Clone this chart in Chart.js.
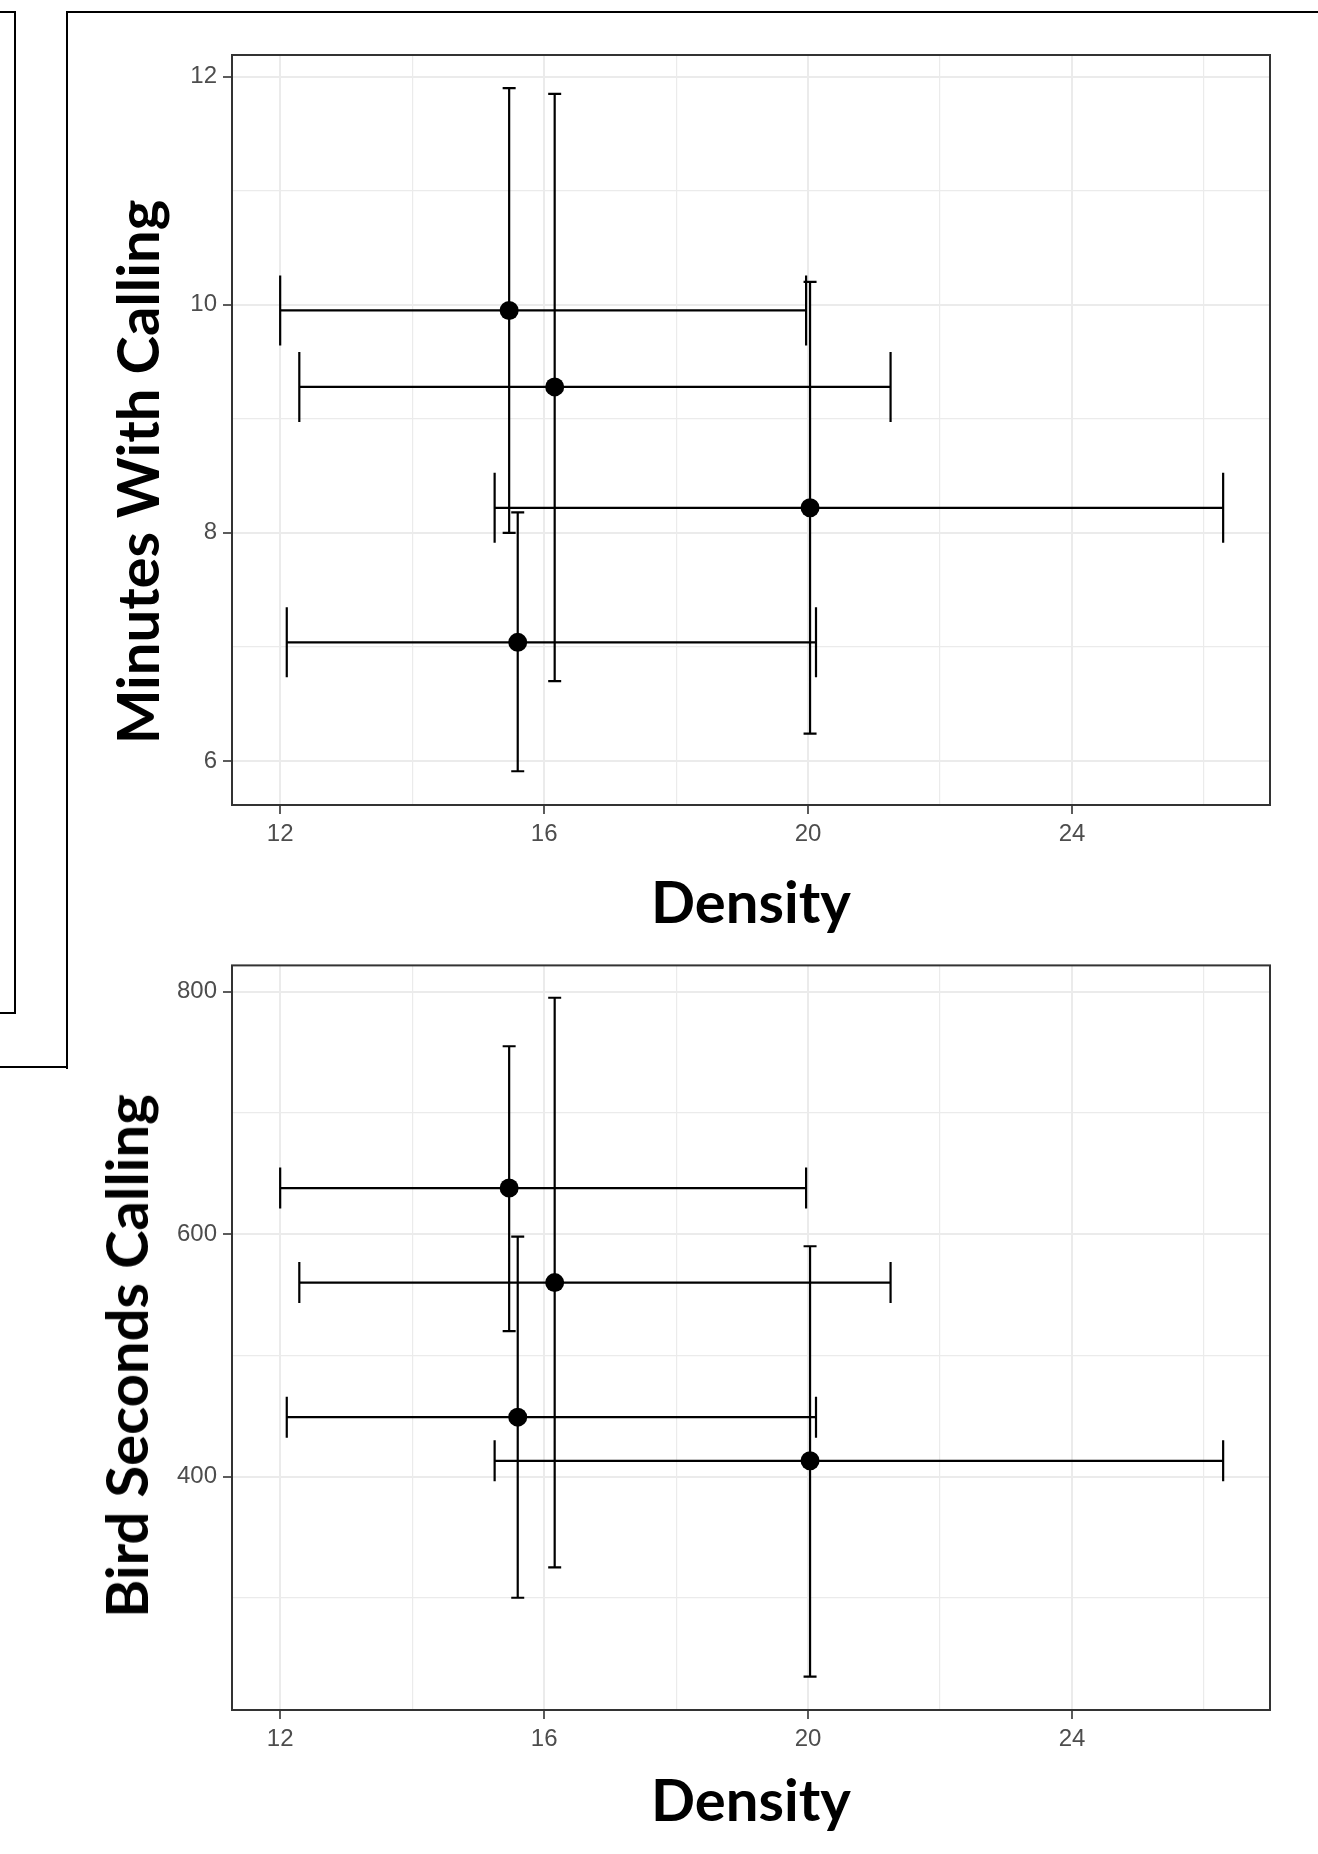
<!DOCTYPE html>
<html>
<head>
<meta charset="utf-8">
<script src="https://cdn.jsdelivr.net/npm/chart.js@4.4.1/dist/chart.umd.min.js"></script>
<style>
  html, body { margin: 0; padding: 0; background: #fff; }
  body { position: relative; width: 1318px; height: 1854px; overflow: hidden; }
  .wrap { position: absolute; left: 0; width: 1318px; }
  .ytitle {
    position: absolute;
    font-family: Lato, sans-serif;
    font-weight: bold;
    font-size: 58px;
    line-height: 1;
    white-space: nowrap;
    color: #000;
    transform: translate(-50%, -50%) rotate(-90deg);
  }
  .line { position: absolute; border-color: #000; border-style: solid; border-width: 0; box-sizing: border-box; }
</style>
</head>
<body>

<div class="wrap" style="top:0;height:945px"><canvas id="minutesChart"></canvas></div>
<div class="wrap" style="top:945px;height:909px"><canvas id="secondsChart"></canvas></div>

<div class="ytitle" style="left:137px;top:472px">Minutes With Calling</div>
<div class="ytitle" style="left:126px;top:1356px">Bird Seconds Calling</div>

<!-- frame lines around the figure -->
<div class="line" style="left:-20px;top:11px;width:36px;height:1003px;border-width:2.5px"></div>
<div class="line" style="left:66px;top:11px;width:1300px;height:1058px;border-top-width:2.5px;border-left-width:2.5px"></div>
<div class="line" style="left:-5px;top:1066px;width:73px;height:2.5px;border-top-width:2.5px"></div>

<script>
// density of each site, with its interval
const density   = [15.47, 16.16, 20.03, 15.60];
const densityLo = [12.00, 12.29, 15.25, 12.10];
const densityHi = [19.97, 21.25, 26.29, 20.12];

// minutes with calling
const minutes   = [9.95, 9.28, 8.22, 7.04];
const minutesLo = [8.00, 6.70, 6.24, 5.91];
const minutesHi = [11.90, 11.85, 10.20, 8.18];

// bird seconds calling
const seconds   = [638, 560, 413, 449];
const secondsLo = [520, 325, 235, 300];
const secondsHi = [755, 795, 590, 598];

// grid lines (major + minor) and labelled ticks
const xGrid = [12, 14, 16, 18, 20, 22, 24, 26];
const xLabels = [12, 16, 20, 24];
const minutesGrid = [6, 7, 8, 9, 10, 11, 12];
const minutesLabels = [6, 8, 10, 12];
const secondsGrid = [300, 400, 500, 600, 700, 800];
const secondsLabels = [400, 600, 800];

Chart.defaults.font.family = "'Liberation Sans', Arial, sans-serif";
Chart.defaults.font.size = 24;
Chart.defaults.color = "#4D4D4D";

// horizontal + vertical error bars, drawn under the points
const errorBars = {
  id: "errorBars",
  beforeDatasetsDraw(chart, args, opts) {
    const ctx = chart.ctx;
    const x = chart.scales.x, y = chart.scales.y;
    const ds = chart.data.datasets[0];
    ctx.save();
    ctx.strokeStyle = opts.color;
    ctx.lineWidth = opts.lineWidth;
    ctx.beginPath();
    ds.data.forEach((p, i) => {
      const px = x.getPixelForValue(p.x);
      const py = y.getPixelForValue(p.y);
      const xl = x.getPixelForValue(ds.xLo[i]), xh = x.getPixelForValue(ds.xHi[i]);
      const yl = y.getPixelForValue(ds.yLo[i]), yh = y.getPixelForValue(ds.yHi[i]);
      ctx.moveTo(xl, py); ctx.lineTo(xh, py);
      ctx.moveTo(xl, py - opts.capH); ctx.lineTo(xl, py + opts.capH);
      ctx.moveTo(xh, py - opts.capH); ctx.lineTo(xh, py + opts.capH);
      ctx.moveTo(px, yl); ctx.lineTo(px, yh);
      ctx.moveTo(px - opts.capW, yl); ctx.lineTo(px + opts.capW, yl);
      ctx.moveTo(px - opts.capW, yh); ctx.lineTo(px + opts.capW, yh);
    });
    ctx.stroke();
    ctx.restore();
  }
};

// full box around the panel (theme_bw look)
const panelBorder = {
  id: "panelBorder",
  afterDraw(chart, args, opts) {
    const {ctx, chartArea: a} = chart;
    ctx.save();
    ctx.strokeStyle = opts.color;
    ctx.lineWidth = opts.width;
    ctx.strokeRect(a.left, a.top, a.right - a.left, a.bottom - a.top);
    ctx.restore();
  }
};

function gridAxis(min, max, grid, labels, fit) {
  return {
    type: "linear",
    min: min,
    max: max,
    afterBuildTicks: s => { s.ticks = grid.map(v => ({ value: v })); },
    afterFit: fit,
    ticks: {
      autoSkip: false,
      maxRotation: 0,
      padding: 6,
      color: "#4D4D4D",
      callback: v => labels.includes(v) ? String(v) : ""
    },
    grid: {
      color: "#EBEBEB",
      lineWidth: c => labels.includes(c.tick && c.tick.value) ? 2 : 1.2,
      tickLength: 9,
      tickWidth: 1.6,
      tickColor: c => labels.includes(c.tick && c.tick.value) ? "#333333" : "rgba(0,0,0,0)"
    },
    border: { display: false }
  };
}

function makeChart(id, yVals, yLo, yHi, yMin, yMax, yGrid, yLabels, canvasH, areaTop, areaBottom, titlePad, capH) {
  const xAxis = gridAxis(11.27, 27.0, xGrid, xLabels, s => { s.height = canvasH - areaBottom; });
  xAxis.title = {
    display: true,
    text: "Density",
    color: "#000",
    font: { family: "Lato", weight: "bold", size: 58, lineHeight: 1 },
    padding: { top: 0, bottom: titlePad }
  };
  const yAxis = gridAxis(yMin, yMax, yGrid, yLabels, s => { s.width = 232; });

  return new Chart(document.getElementById(id), {
    type: "scatter",
    data: {
      datasets: [{
        data: density.map((d, i) => ({ x: d, y: yVals[i] })),
        xLo: densityLo, xHi: densityHi,
        yLo: yLo, yHi: yHi,
        pointRadius: 9.5,
        pointHoverRadius: 9.5,
        backgroundColor: "#000",
        borderWidth: 0
      }]
    },
    options: {
      responsive: true,
      maintainAspectRatio: false,
      animation: false,
      layout: { padding: { top: areaTop, right: 48, left: 0, bottom: 0 } },
      scales: { x: xAxis, y: yAxis },
      plugins: {
        legend: { display: false },
        tooltip: { enabled: false },
        errorBars: { color: "#000", lineWidth: 2.2, capW: 6.5, capH: capH },
        panelBorder: { color: "#333333", width: 2 }
      }
    },
    plugins: [errorBars, panelBorder]
  });
}

makeChart("minutesChart", minutes, minutesLo, minutesHi, 5.614, 12.19,
  minutesGrid, minutesLabels, 945, 55, 805, 12, 35);
makeChart("secondsChart", seconds, secondsLo, secondsHi, 207.4, 821.7,
  secondsGrid, secondsLabels, 909, 16, 765, 23, 20.5);
</script>
</body>
</html>
